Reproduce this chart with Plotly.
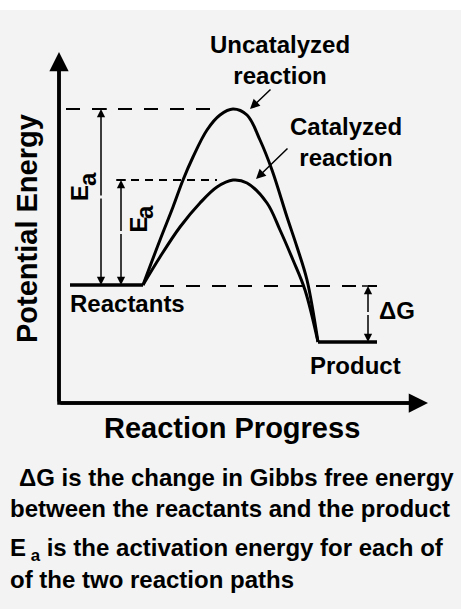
import plotly.graph_objects as go

# ---------------- data (reaction progress vs potential energy, arbitrary units) ----------------
reactant_x = [11, 84]
product_x = [259, 318]
reactant_level = 118
product_level = 61
uncat_peak = 294
cat_peak = 223

uncat_x = [84, 101, 114, 124, 134, 148, 161, 174, 188, 201, 213, 228, 238, 248, 259]
uncat_E = [118, 163, 196, 223, 246, 273, 288, 294, 288, 263, 233, 186, 156, 123, 61]
cat_x = [84, 101, 121, 141, 158, 174, 188, 208, 221, 234, 246, 259]
cat_E = [118, 146, 176, 200, 216, 223, 220, 200, 173, 143, 113, 61]

x_axis_end = 369
y_axis_end = 351

title_x = "Reaction Progress"
title_y = "Potential Energy"
notes = [
    "\u0394G is the change in Gibbs free energy",
    "between the reactants and the product",
    "E<sub>&nbsp;a</sub> is the activation energy for each of",
    "of the two reaction paths",
]

FONT = "Liberation Sans, Arial, sans-serif"
BLACK = "black"

fig = go.Figure()

def line(x, y, width=2, dash=None, shape="linear"):
    fig.add_trace(go.Scatter(
        x=x, y=y, mode="lines", hoverinfo="skip", showlegend=False,
        line=dict(color=BLACK, width=width, dash=dash, shape=shape, smoothing=1.0),
    ))

# dashed reference levels
line([7, 158], [uncat_peak, uncat_peak], width=2, dash="14px,12px")
line([58, 158], [cat_peak, cat_peak], width=2, dash="8px,6px")
line([101, 318], [reactant_level - 1, reactant_level - 1], width=2, dash="14px,12px")

# plateaus
line(reactant_x, [reactant_level, reactant_level], width=3.5)
line(product_x, [product_level, product_level], width=3.5)

# reaction paths
line(uncat_x, uncat_E, width=3, shape="spline")
line(cat_x, cat_E, width=3, shape="spline")

# axis shafts
line([0, 0, x_axis_end - 10], [y_axis_end - 10, 0, 0], width=3.5)

# T-bars at arrow ends
line([36, 48, None, 57, 67, None, 303, 315, None, 303, 315],
     [uncat_peak, uncat_peak, None, cat_peak, cat_peak, None,
      reactant_level - 1, reactant_level - 1, None, product_level, product_level], width=1.5)

annotations = []

def arrow(x0, y0, x1, y1, width=1.5, size=1.1):
    annotations.append(dict(
        x=x1, y=y1, ax=x0, ay=y0, xref="x", yref="y", axref="x", ayref="y",
        text="", showarrow=True, arrowhead=2, arrowwidth=width, arrowsize=size,
        arrowcolor=BLACK,
    ))

# axes arrows
arrow(0, 0, 0, y_axis_end, width=3.5, size=1.1)
arrow(0, 0, x_axis_end, 0, width=3.5, size=1.1)

# Ea arrows (double headed)
m1 = (uncat_peak + reactant_level) / 2
arrow(42, m1, 42, uncat_peak)
arrow(42, m1, 42, reactant_level)
m2 = (cat_peak + reactant_level) / 2
arrow(62, m2, 62, cat_peak)
arrow(62, m2, 62, reactant_level)
# Delta G arrow
m3 = (reactant_level + product_level) / 2
arrow(309, m3, 309, reactant_level - 1)
arrow(309, m3, 309, product_level)

# pointers to curves
arrow(213, 315, 191, 294, width=1.5, size=1.3)
arrow(230, 256, 197, 224, width=1.5, size=1.3)

def text(x, y, s, size=24, xanchor="center", yanchor="middle", angle=0, align="center"):
    annotations.append(dict(
        x=x, y=y, xref="x", yref="y", text=s, showarrow=False,
        xanchor=xanchor, yanchor=yanchor, textangle=angle, align=align,
        font=dict(family=FONT, size=size, color=BLACK, weight="bold"),
    ))

text(221, 343, "Uncatalyzed<br>reaction")
text(287, 261, "Catalyzed<br>reaction")
text(9, 100, "Reactants", xanchor="left")
text(249, 38, "Product", xanchor="left")
text(318, 93, "\u0394G", xanchor="left")
text(20, 210, "E", angle=-90)
text(28, 224, "a", angle=-90)
text(78.5, 178, "E", angle=-90)
text(85.5, 190.5, "a", angle=-90)

text(-32, 174, title_y, size=29, angle=-90)
text(173, -25, title_x, size=29)

text(-42, -74, notes[0], size=24, xanchor="left")
text(-51, -105, notes[1], size=24, xanchor="left")
text(-51, -146, notes[2], size=24, xanchor="left")
text(-51, -176, notes[3], size=24, xanchor="left")

fig.update_layout(
    width=461, height=609,
    margin=dict(l=0, r=0, t=10, b=0),
    paper_bgcolor="white",
    plot_bgcolor="#f3f3f3",
    xaxis=dict(range=[-59, 402], visible=False, fixedrange=True),
    yaxis=dict(range=[-206, 393], visible=False, fixedrange=True),
    annotations=annotations,
    showlegend=False,
)

fig.write_html(
    "out.html",
    config={"displayModeBar": False},
    post_script="document.body.style.margin='0';document.body.style.overflow='hidden';",
)
